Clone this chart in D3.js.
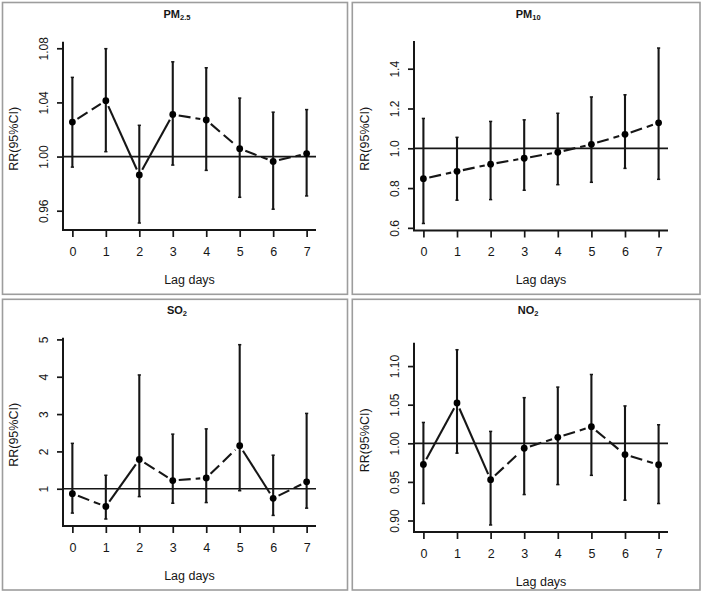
<!DOCTYPE html>
<html>
<head>
<meta charset="utf-8">
<script src="https://cdn.jsdelivr.net/npm/d3@7"></script>
<style>
  html, body { margin: 0; padding: 0; background: #fff; }
  svg { display: block; font-family: "Liberation Sans", Arial, sans-serif; }
</style>
</head>
<body>
<svg id="chart" width="702" height="592"></svg>
<script>
// lag days on the x axis
const lags = [0, 1, 2, 3, 4, 5, 6, 7];

// PM2.5
const pm25RR = [1.0255, 1.0413, 0.9864, 1.0311, 1.0270, 1.0058, 0.9964, 1.0022];
const pm25Lo = [0.9922, 1.0036, 0.9509, 0.9937, 0.9898, 0.9699, 0.9611, 0.9709];
const pm25Hi = [1.0585, 1.0797, 1.0231, 1.0700, 1.0656, 1.0432, 1.0328, 1.0347];
const pm25Ticks = [0.96, 1.00, 1.04, 1.08];

// PM10
const pm10RR = [0.847, 0.884, 0.920, 0.950, 0.980, 1.020, 1.070, 1.128];
const pm10Lo = [0.622, 0.739, 0.742, 0.789, 0.817, 0.829, 0.899, 0.844];
const pm10Hi = [1.150, 1.055, 1.135, 1.143, 1.176, 1.258, 1.269, 1.504];
const pm10Ticks = [0.6, 0.8, 1.0, 1.2, 1.4];

// SO2
const so2RR = [0.868, 0.524, 1.784, 1.220, 1.291, 2.154, 0.744, 1.185];
const so2Lo = [0.348, 0.189, 0.789, 0.612, 0.630, 0.947, 0.286, 0.480];
const so2Hi = [2.216, 1.361, 4.048, 2.463, 2.604, 4.859, 1.899, 3.018];
const so2Ticks = [1, 2, 3, 4, 5];

// NO2
const no2RR = [0.9726, 1.0522, 0.9529, 0.9936, 1.0077, 1.0214, 0.9854, 0.9722];
const no2Lo = [0.9220, 0.9872, 0.8942, 0.9336, 0.9465, 0.9585, 0.9263, 0.9220];
const no2Hi = [1.0270, 1.1212, 1.0154, 1.0591, 1.0728, 1.0891, 1.0484, 1.0240];
const no2Ticks = [0.90, 0.95, 1.00, 1.05, 1.10];

const svg = d3.select("#chart");
const INK = "#161616";

// layout of the four panels (box + plot region)
const panels = [
  { name: "PM", sub: "2.5", rr: pm25RR, lo: pm25Lo, hi: pm25Hi, ticks: pm25Ticks, fmt: ".2f",
    box: [2.5, 2.5, 347.5, 294.3], plot: [63, 41.7, 316, 230] },
  { name: "PM", sub: "10", rr: pm10RR, lo: pm10Lo, hi: pm10Hi, ticks: pm10Ticks, fmt: ".1f",
    box: [352.3, 2.5, 700, 294.3], plot: [414, 41, 668, 230.5] },
  { name: "SO", sub: "2", rr: so2RR, lo: so2Lo, hi: so2Hi, ticks: so2Ticks, fmt: "d",
    box: [2.5, 299.3, 347.5, 590], plot: [63, 337.7, 316, 526] },
  { name: "NO", sub: "2", rr: no2RR, lo: no2Lo, hi: no2Hi, ticks: no2Ticks, fmt: ".2f",
    box: [352.3, 299.3, 700, 590], plot: [414, 342.7, 668, 532] }
];

panels.forEach(drawPanel);

function drawPanel(p) {
  const [bx0, by0, bx1, by1] = p.box;
  const [px0, py0, px1, py1] = p.plot;
  const g = svg.append("g");

  // panel frame
  g.append("rect")
    .attr("x", bx0).attr("y", by0)
    .attr("width", bx1 - bx0).attr("height", by1 - by0)
    .attr("fill", "none").attr("stroke", "#9d9d9d").attr("stroke-width", 1.6);

  // R style ranges: data extent padded by 4%
  const xPad = (d3.max(lags) - d3.min(lags)) * 0.04;
  const x = d3.scaleLinear()
    .domain([d3.min(lags) - xPad, d3.max(lags) + xPad])
    .range([px0, px1]);
  const lo = d3.min(p.lo), hi = d3.max(p.hi);
  const yPad = (hi - lo) * 0.04;
  const y = d3.scaleLinear().domain([lo - yPad, hi + yPad]).range([py1, py0]);

  // title with subscript
  const title = g.append("text")
    .attr("x", (bx0 + bx1) / 2 + 2).attr("y", by0 + 15)
    .attr("text-anchor", "middle")
    .style("font-size", "11px").style("font-weight", "bold").attr("fill", INK);
  title.append("tspan").text(p.name);
  title.append("tspan").text(p.sub).attr("dy", 2).style("font-size", "7.5px");

  // L-shaped box
  g.append("path")
    .attr("d", `M${px0},${py0}V${py1}H${px1}`)
    .attr("fill", "none").attr("stroke", INK).attr("stroke-width", 2);

  // x axis
  const xAxis = g.append("g")
    .attr("transform", `translate(0,${py1})`)
    .call(d3.axisBottom(x).tickValues(lags).tickSize(7).tickPadding(10).tickFormat(d3.format("d")));
  xAxis.select(".domain").remove();
  xAxis.selectAll("line").attr("stroke", INK).attr("stroke-width", 1.7);
  xAxis.selectAll("text").attr("fill", INK).style("font-size", "12.5px");

  // y axis, labels parallel to the axis
  const yAxis = g.append("g")
    .attr("transform", `translate(${px0},0)`)
    .call(d3.axisLeft(y).tickValues(p.ticks).tickSize(6).tickFormat(d3.format(p.fmt)));
  yAxis.select(".domain").remove();
  yAxis.selectAll("line").attr("stroke", INK).attr("stroke-width", 1.7);
  yAxis.selectAll("text")
    .attr("x", null).attr("dy", null)
    .attr("text-anchor", "middle")
    .attr("transform", "translate(-15.5,0) rotate(-90)")
    .attr("fill", INK).style("font-size", "12px");

  // axis titles
  g.append("text")
    .attr("x", (px0 + px1) / 2).attr("y", py1 + 53.5)
    .attr("text-anchor", "middle").attr("fill", INK)
    .style("font-size", "12.5px").text("Lag days");
  g.append("text")
    .attr("transform", `translate(${px0 - 44.7},${(py0 + py1) / 2 + 3}) rotate(-90)`)
    .attr("text-anchor", "middle").attr("fill", INK)
    .style("font-size", "12.5px").text("RR(95%CI)");

  // reference line at RR = 1
  g.append("line")
    .attr("x1", px0).attr("x2", px1)
    .attr("y1", y(1)).attr("y2", y(1))
    .attr("stroke", INK).attr("stroke-width", 1.7);

  // confidence intervals
  const bars = g.append("g");
  lags.forEach((d, i) => {
    bars.append("line")
      .attr("x1", x(d)).attr("x2", x(d))
      .attr("y1", y(p.lo[i])).attr("y2", y(p.hi[i]))
      .attr("stroke", INK).attr("stroke-width", 2.1);
    [p.lo[i], p.hi[i]].forEach(v => {
      bars.append("line")
        .attr("x1", x(d) - 1.6).attr("x2", x(d) + 1.6)
        .attr("y1", y(v)).attr("y2", y(v))
        .attr("stroke", INK).attr("stroke-width", 1.5);
    });
  });

  // type="b" connecting segments, with gaps round the points
  const gap = 6;
  for (let i = 0; i < lags.length - 1; i++) {
    const x0 = x(lags[i]), y0 = y(p.rr[i]);
    const x1 = x(lags[i + 1]), y1 = y(p.rr[i + 1]);
    const len = Math.hypot(x1 - x0, y1 - y0);
    if (len <= 2 * gap) continue;
    const ux = (x1 - x0) / len, uy = (y1 - y0) / len;
    const steep = Math.atan2(Math.abs(y1 - y0), Math.abs(x1 - x0)) > 50 * Math.PI / 180;
    g.append("line")
      .attr("x1", x0 + ux * gap).attr("y1", y0 + uy * gap)
      .attr("x2", x1 - ux * gap).attr("y2", y1 - uy * gap)
      .attr("stroke", INK).attr("stroke-width", 2.1)
      .attr("stroke-dasharray", steep ? null : "12,5");
  }

  // point estimates
  g.append("g").selectAll("circle")
    .data(lags)
    .join("circle")
    .attr("cx", d => x(d))
    .attr("cy", (d, i) => y(p.rr[i]))
    .attr("r", 3.4)
    .attr("fill", "#000");
}
</script>
</body>
</html>
